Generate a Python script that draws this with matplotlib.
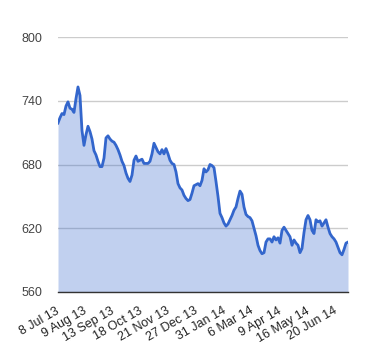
import numpy as np
import matplotlib
matplotlib.use('Agg')
import matplotlib.pyplot as plt

# closing prices, roughly every other trading day
prices = [719, 724, 728, 727, 735, 739, 733, 732, 729, 742,
          753, 745, 712, 698, 708, 716, 711, 704, 693, 689,
          683, 678, 678, 686, 705, 707, 704, 702, 701, 698,
          694, 689, 683, 679, 672, 667, 664, 670, 684, 688,
          683, 684, 685, 681, 681, 681, 683, 690, 700, 696,
          692, 690, 694, 690, 695, 690, 684, 681, 680, 673,
          662, 658, 656, 651, 648, 646, 647, 653, 660, 661,
          662, 660, 665, 676, 673, 675, 680, 679, 677, 664,
          650, 634, 630, 625, 622, 624, 628, 632, 637, 640,
          648, 655, 652, 640, 633, 631, 630, 627, 620, 613,
          604, 599, 596, 597, 607, 610, 610, 607, 612, 609,
          611, 606, 618, 621, 618, 615, 612, 604, 609, 606,
          604, 597, 601, 616, 628, 632, 628, 618, 615, 628,
          626, 627, 622, 625, 628, 621, 615, 612, 610, 607,
          602, 597, 595, 600, 606, 607]
n_days = 250
tick_days = [0, 24, 48, 72, 96, 120, 144, 168, 192, 216, 240]
tick_labels = ['8 Jul 13', '9 Aug 13', '13 Sep 13', '18 Oct 13', '21 Nov 13',
               '27 Dec 13', '31 Jan 14', '6 Mar 14', '9 Apr 14', '16 May 14',
               '20 Jun 14']
y_ticks = [560, 620, 680, 740, 800]

plt.rcParams['font.family'] = ['Liberation Sans', 'DejaVu Sans']

days = np.linspace(0, n_days, len(prices))

fig = plt.figure(figsize=(3.8, 3.6), dpi=100)
ax = fig.add_axes([0.1526, 0.1889, 0.7632, 0.7083])

ax.fill_between(days, 560, prices, color='#3366cc', alpha=0.3, linewidth=0)
ax.plot(days, prices, color='#3366cc', linewidth=2)

ax.set_xlim(0, n_days)
ax.set_ylim(560, 800)
ax.set_yticks(y_ticks)
ax.set_xticks(tick_days)
ax.set_xticklabels(tick_labels, rotation=30, ha='right', va='center',
                   rotation_mode='anchor')
ax.tick_params(axis='x', length=0, pad=13, labelsize=9, colors='#222222')
ax.tick_params(axis='y', length=0, pad=11, labelsize=9, colors='#444444')

ax.grid(axis='y', color='#cccccc', linewidth=1)
ax.set_axisbelow(True)
for s in ['top', 'right', 'left']:
    ax.spines[s].set_visible(False)
ax.spines['bottom'].set_color('#333333')
ax.spines['bottom'].set_linewidth(1)

fig.savefig('out.png', dpi=100)
